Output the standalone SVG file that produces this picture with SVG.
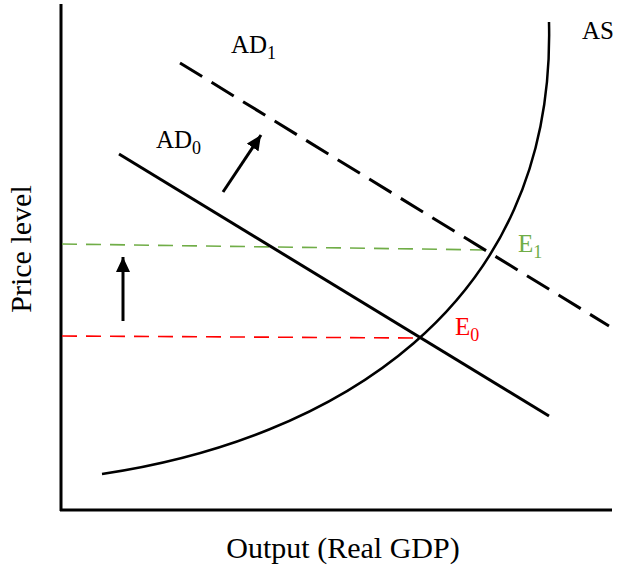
<svg xmlns="http://www.w3.org/2000/svg" width="618" height="565" viewBox="0 0 618 565">
<style>
.lbl{font-family:"Liberation Serif","Times New Roman",serif;font-size:25px;fill:#000}
.sub{font-size:18px}
.ax{font-family:"Liberation Serif","Times New Roman",serif;font-size:30px;fill:#000}
.axis{stroke:#000;stroke-width:3;fill:none}
.solid{stroke:#000;stroke-width:3;fill:none}
.dash{stroke:#000;stroke-width:3;fill:none;stroke-dasharray:26 11}
.guide{stroke-width:1.6;fill:none;stroke-dasharray:15 9}
</style>
<defs>
<marker id="ah" markerUnits="userSpaceOnUse" markerWidth="16" markerHeight="14" refX="15" refY="7" orient="auto">
<path d="M0,0 L15,7 L0,14 Z" fill="#000"/>
</marker>
</defs>
<g id="axes">
<line class="axis" x1="61" y1="4" x2="61" y2="511"/>
<line class="axis" x1="60" y1="510" x2="612" y2="510"/>
</g>
<g id="connectors">
<line class="guide" stroke="#70AD47" x1="62" y1="244" x2="490" y2="250"/>
<line class="guide" stroke="#FF0000" x1="62" y1="336" x2="418" y2="338"/>
<line class="solid" x1="123" y1="321" x2="123" y2="257" marker-end="url(#ah)"/>
<line class="solid" x1="223" y1="192" x2="261" y2="135" marker-end="url(#ah)"/>
</g>
<g id="AS">
<path class="solid" style="stroke-width:2.5" d="M102,474 C330,440 556,310 549,22"/>
<text class="lbl" x="582" y="39">AS</text>
</g>
<g id="AD0">
<line class="solid" x1="119" y1="154" x2="549" y2="416"/>
<text class="lbl" x="156" y="148">AD<tspan class="sub" dy="6">0</tspan></text>
</g>
<g id="AD1">
<line class="dash" x1="180" y1="63" x2="609" y2="326"/>
<text class="lbl" x="231" y="53">AD<tspan class="sub" dy="6">1</tspan></text>
</g>
<g id="E0">
<text class="lbl" x="455" y="335" style="fill:#FF0000">E<tspan class="sub" dy="6">0</tspan></text>
</g>
<g id="E1">
<text class="lbl" x="518" y="252" style="fill:#70AD47">E<tspan class="sub" dy="6">1</tspan></text>
</g>
<g id="labels">
<text class="ax" transform="translate(31,249) rotate(-90)" text-anchor="middle">Price level</text>
<text class="ax" x="343" y="558" text-anchor="middle">Output (Real GDP)</text>
</g>
</svg>
